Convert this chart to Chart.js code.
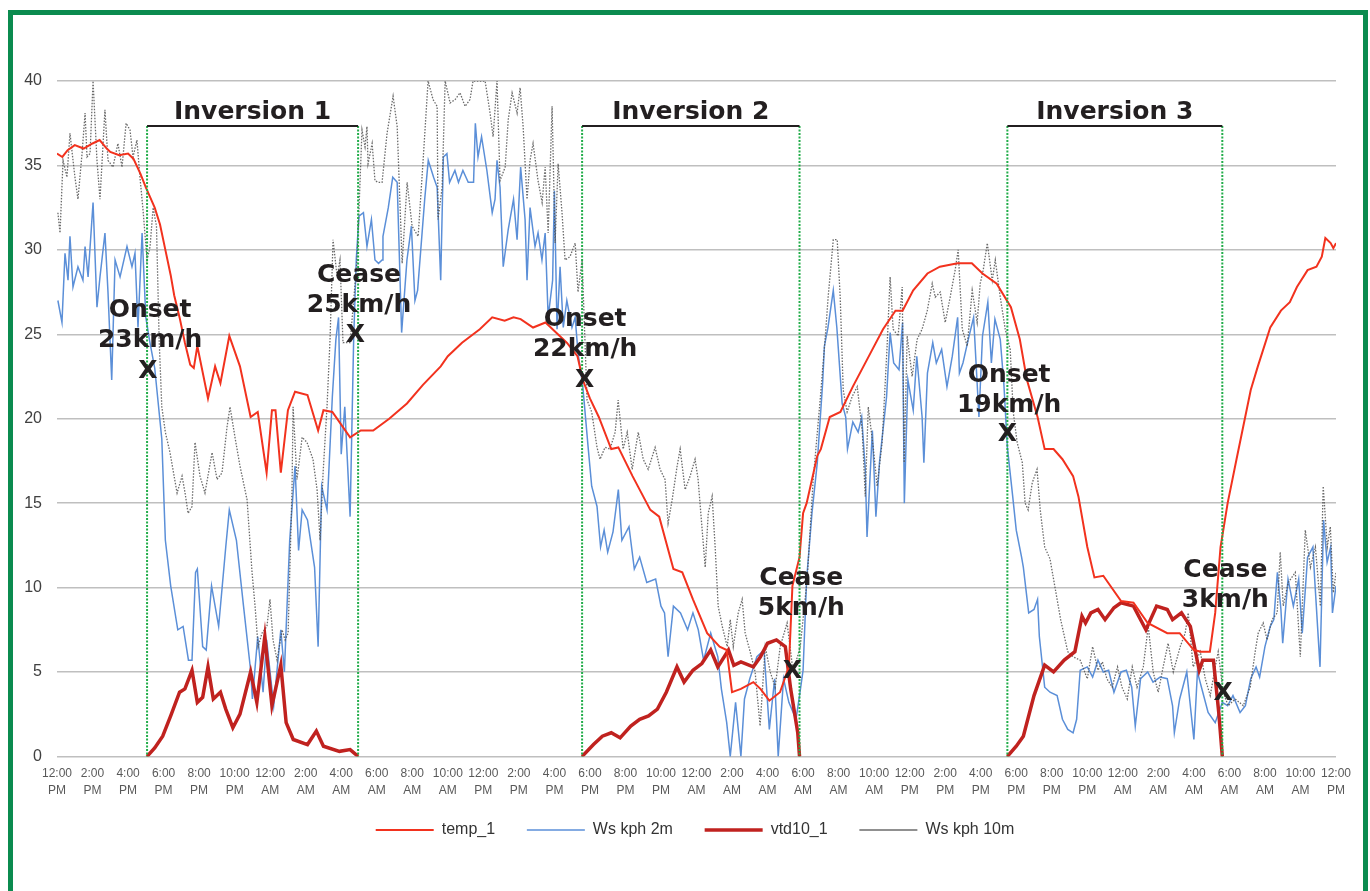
<!DOCTYPE html>
<html lang="en">
<head>
<meta charset="UTF-8">
<title>Inversions - wind speed and temperature</title>
<script src="https://cdn.jsdelivr.net/npm/chart.js"></script>
<style>
    body { margin: 0; background: #ffffff; }
    .frame {
        position: absolute; left: 8px; top: 10px;
        width: 1350px; height: 900px;
        border: 5px solid #0b8b4f;
    }
    #chart { position: absolute; left: 0; top: 0; }
</style>
</head>
<body>
<div class="frame"></div>
<canvas id="chart" width="1370" height="891"></canvas>
<script>
// hours since 12:00 PM on day 1, value
const temp1 = [
    [0,35.7],[0.3,35.5],[0.6,35.9],[1.0,36.2],[1.5,36.0],[2.0,36.3],[2.4,36.5],[2.8,36.0],[3.0,35.8],[3.5,35.6],
    [4.0,35.7],[4.3,35.4],[4.7,34.5],[5.0,33.7],[5.5,32.5],[5.8,31.5],[6.1,30.0],[6.4,28.5],[6.6,27.3],[6.9,26.0],
    [7.2,24.5],[7.5,23.2],[7.7,23.0],[7.9,24.3],[8.5,21.2],[8.9,23.1],[9.2,22.1],[9.7,24.9],[10.3,23.1],[10.9,20.1],
    [11.3,20.4],[11.8,16.8],[12.1,20.5],[12.3,20.5],[12.6,16.8],[13.0,20.5],[13.4,21.6],[14.1,21.4],[14.7,19.3],[15.0,20.5],
    [15.5,20.4],[16.5,18.9],[17.1,19.3],[17.8,19.3],[18.7,20.0],[19.7,20.9],[20.6,22.0],[21.6,23.1],[22.0,23.7],[22.8,24.5],
    [23.8,25.3],[24.5,26.0],[25.2,25.8],[25.7,26.0],[26.1,25.9],[26.8,25.4],[27.5,25.7],[27.9,25.3],[28.7,24.5],[29.3,23.7],
    [29.6,22.3],[30.0,21.2],[30.5,20.1],[31.2,18.2],[31.6,18.3],[32.4,16.6],[33.4,14.6],[33.9,14.2],[34.7,11.1],[35.2,10.9],
    [35.8,9.3],[36.6,7.3],[37.3,6.5],[37.7,6.3],[38.0,3.8],[38.5,4.0],[39.2,4.4],[39.6,4.0],[40.1,3.3],[40.7,3.8],
    [41.2,5.3],[41.4,10.1],[41.8,11.8],[42.0,14.4],[42.2,15.0],[42.8,17.8],[43.0,18.2],[43.5,20.1],[44.1,20.4],[44.8,21.9],
    [45.8,23.9],[46.5,25.3],[47.2,26.4],[47.6,26.4],[48.2,27.6],[49.0,28.6],[49.7,29.0],[50.7,29.2],[51.5,29.2],[52.1,28.6],
    [52.9,28.0],[53.7,26.6],[54.2,24.7],[54.6,22.3],[55.2,20.1],[55.6,18.2],[56.1,18.2],[56.6,17.6],[57.2,16.6],[57.5,15.4],
    [58.0,12.4],[58.4,10.6],[58.9,10.7],[59.9,9.2],[60.6,9.1],[61.4,7.9],[62.5,7.3],[63.2,7.3],[64.0,6.3],[64.4,6.2],
    [64.9,6.2],[65.2,8.5],[65.5,12.4],[65.9,15.0],[66.4,17.6],[67.2,21.7],[67.6,23.1],[68.3,25.4],[68.9,26.4],[69.4,26.9],
    [69.8,27.8],[70.4,28.8],[70.9,29.0],[71.2,29.6],[71.4,30.7],[71.7,30.4],[71.85,30.1],[72.0,30.4]
];

const wsKph2m = [
    [0.05,27.0],[0.28,25.7],[0.45,29.8],[0.62,28.2],[0.73,30.8],[0.9,27.8],[1.18,29.0],[1.46,28.2],[1.58,30.2],[1.75,28.4],
    [2.03,32.8],[2.25,26.6],[2.42,28.4],[2.7,31.0],[2.87,27.5],[3.08,22.3],[3.27,29.4],[3.55,28.4],[3.94,30.2],[4.22,29.0],
    [4.39,29.8],[4.56,25.4],[4.79,31.0],[5.0,26.0],[5.2,24.7],[5.5,23.0],[5.9,18.8],[6.1,12.8],[6.4,10.1],[6.8,7.5],
    [7.1,7.7],[7.4,5.7],[7.6,5.7],[7.8,10.9],[7.9,11.1],[8.2,6.5],[8.4,6.3],[8.7,10.1],[9.1,7.7],[9.5,12.4],
    [9.7,14.6],[10.1,12.8],[10.5,8.9],[10.9,5.1],[11.0,3.4],[11.3,7.1],[11.6,3.8],[11.8,6.9],[12.2,3.0],[12.6,7.5],
    [12.8,5.0],[13.1,12.8],[13.4,17.2],[13.6,12.2],[13.8,14.6],[14.1,14.0],[14.5,11.2],[14.7,6.5],[14.9,16.0],[15.2,14.6],
    [15.5,21.3],[15.7,24.7],[15.85,26.0],[16.0,17.9],[16.2,20.7],[16.5,14.2],[16.7,24.7],[16.85,29.5],[17.0,32.0],[17.25,32.2],
    [17.45,30.2],[17.7,31.8],[17.9,29.4],[18.1,29.2],[18.3,29.4],[18.35,30.8],[18.65,32.5],[18.9,34.3],[19.15,34.0],[19.4,25.1],
    [19.7,29.4],[19.95,31.4],[20.15,27.0],[20.3,27.6],[20.7,33.0],[20.9,35.3],[21.2,34.3],[21.4,33.7],[21.6,28.2],[21.75,35.5],
    [21.95,35.7],[22.1,34.0],[22.4,34.7],[22.6,34.0],[22.85,34.7],[23.15,34.0],[23.45,34.0],[23.55,37.5],[23.7,35.5],[23.9,36.7],
    [24.2,34.7],[24.5,32.2],[24.66,33.0],[24.77,35.3],[24.94,33.7],[25.12,29.0],[25.4,31.2],[25.7,33.0],[25.9,30.6],[26.1,34.9],
    [26.35,31.8],[26.46,28.2],[26.63,32.5],[26.91,30.2],[27.08,31.0],[27.3,29.4],[27.48,31.0],[27.65,26.0],[27.9,28.2],[28.0,33.5],
    [28.15,25.3],[28.32,29.0],[28.5,25.4],[28.7,27.0],[28.99,25.4],[29.17,26.0],[29.33,23.9],[29.6,21.9],[29.9,18.3],[30.1,16.0],
    [30.4,14.8],[30.6,12.4],[30.8,13.4],[31.0,12.1],[31.3,13.3],[31.6,15.8],[31.8,12.8],[32.2,13.6],[32.5,11.1],[32.8,11.8],
    [33.2,10.3],[33.7,10.5],[34.0,8.9],[34.2,8.5],[34.4,5.9],[34.7,8.9],[35.1,8.5],[35.5,7.5],[35.8,8.5],[36.1,7.5],
    [36.4,5.7],[36.8,7.3],[37.2,5.9],[37.4,4.0],[37.7,2.0],[37.9,0],[38.2,3.2],[38.5,0],[38.7,3.4],[39.0,4.6],
    [39.4,5.9],[39.8,6.3],[40.1,1.6],[40.4,4.6],[40.6,0],[40.9,4.6],[41.2,3.2],[41.6,2.2],[41.8,3.6],[42.0,5.1],
    [42.2,10.5],[42.5,14.4],[42.8,17.4],[43.1,22.1],[43.2,24.3],[43.4,25.4],[43.7,27.6],[43.9,25.4],[44.2,20.9],[44.4,20.1],
    [44.5,18.2],[44.8,19.8],[45.1,19.2],[45.3,20.1],[45.5,17.0],[45.6,13.0],[45.9,19.3],[46.1,14.2],[46.3,17.4],[46.7,21.3],
    [46.9,25.1],[47.1,23.3],[47.4,22.9],[47.6,25.7],[47.7,15.0],[47.9,22.3],[48.2,20.5],[48.4,23.7],[48.7,20.1],[48.8,17.4],
    [49.0,22.7],[49.3,24.5],[49.5,23.3],[49.8,24.1],[50.1,21.9],[50.4,23.7],[50.7,26.0],[50.8,22.7],[51.0,23.3],[51.3,24.7],
    [51.6,26.0],[51.9,20.1],[52.1,24.9],[52.4,26.9],[52.6,23.3],[52.8,25.9],[53.1,24.7],[53.3,22.1],[53.5,18.3],[53.8,15.4],
    [54.0,13.4],[54.3,11.8],[54.4,11.2],[54.7,8.5],[55.0,8.7],[55.2,9.3],[55.3,7.1],[55.6,4.1],[55.9,3.8],[56.3,3.6],
    [56.6,2.2],[56.9,1.6],[57.2,1.4],[57.4,2.2],[57.6,5.1],[58.0,5.3],[58.3,4.7],[58.6,5.7],[58.9,5.0],[59.2,5.1],
    [59.5,3.8],[59.9,5.0],[60.2,5.1],[60.5,4.1],[60.7,1.8],[61.0,4.6],[61.4,5.0],[61.7,4.4],[62.1,4.7],[62.5,4.6],
    [62.8,3.0],[62.9,1.4],[63.2,3.4],[63.6,5.0],[64.0,1.0],[64.2,5.0],[64.5,3.8],[64.8,2.6],[65.2,2.0],[65.6,3.2],
    [65.9,3.0],[66.2,3.6],[66.6,2.6],[66.9,3.0],[67.2,4.6],[67.5,5.3],[67.7,4.7],[68.0,6.5],[68.3,7.7],[68.5,8.1],
    [68.7,10.9],[68.9,8.7],[69.0,6.7],[69.3,10.5],[69.6,8.9],[69.9,10.5],[70.1,7.3],[70.4,11.8],[70.7,12.4],[70.8,10.5],
    [71.1,5.3],[71.3,14.0],[71.5,11.5],[71.7,12.4],[71.8,8.5],[72.0,10.1]
];

// only recorded during the three inversions, null breaks the line
const vtd10_1 = [
    [5.07,0],[5.5,0.5],[5.95,1.2],[6.4,2.4],[6.9,3.8],[7.2,4.0],[7.6,5.1],[7.9,3.2],[8.2,3.5],[8.5,5.3],
    [8.8,3.4],[9.2,3.8],[9.5,2.8],[9.9,1.7],[10.3,2.5],[10.9,5.0],[11.25,3.2],[11.7,7.1],[12.1,3.0],[12.6,5.4],
    [12.9,2.0],[13.3,1.0],[14.1,0.7],[14.6,1.5],[15.0,0.6],[15.9,0.3],[16.5,0.4],[16.95,0],[17.5,null],
    [29.56,0],[30.2,0.7],[30.7,1.2],[31.2,1.4],[31.7,1.1],[32.3,1.8],[32.8,2.2],[33.3,2.4],[33.8,2.8],[34.3,3.8],
    [34.9,5.3],[35.3,4.4],[35.8,5.1],[36.3,5.5],[36.8,6.3],[37.2,5.3],[37.8,6.3],[38.1,5.4],[38.5,5.6],[39.2,5.3],
    [39.6,5.9],[40.0,6.7],[40.5,6.9],[41.0,6.5],[41.3,4.0],[41.7,1.4],[41.8,0],[42.5,null],
    [53.5,0],[54.0,0.6],[54.4,1.2],[55.0,3.6],[55.6,5.4],[56.1,5.0],[56.7,5.7],[57.3,6.2],[57.7,8.3],[57.9,7.9],
    [58.2,8.5],[58.6,8.7],[59.0,8.1],[59.5,8.8],[59.9,9.1],[60.6,8.9],[61.3,7.5],[61.9,8.9],[62.5,8.7],[62.8,8.1],
    [63.3,8.5],[63.8,7.7],[64.3,5.1],[64.5,5.7],[65.1,5.7],[65.4,2.6],[65.6,0]
];

const wsKph10m = [
    [0.05,32.2],[0.17,31.0],[0.34,35.3],[0.56,34.3],[0.73,36.9],[1.01,34.3],[1.18,33.0],[1.41,35.7],[1.58,38.1],[1.69,35.5],
    [1.86,35.7],[2.03,40.0],[2.25,35.3],[2.42,33.0],[2.7,38.3],[2.87,35.3],[3.15,34.9],[3.43,36.3],[3.66,34.9],[3.89,37.5],
    [4.11,37.1],[4.28,35.5],[4.5,36.5],[4.67,34.3],[4.84,32.4],[5.07,29.4],[5.24,30.2],[5.41,32.5],[5.6,31.4],[5.75,24.7],
    [5.9,20.7],[6.1,19.2],[6.36,18.0],[6.76,15.6],[7.04,16.6],[7.21,15.6],[7.38,14.4],[7.6,14.8],[7.77,18.6],[8.05,16.6],
    [8.33,15.6],[8.73,18.0],[9.01,16.4],[9.29,16.8],[9.57,19.5],[9.74,20.7],[10.02,18.9],[10.3,17.2],[10.7,15.2],[10.98,10.9],
    [11.15,8.9],[11.32,6.5],[11.54,7.3],[11.82,7.7],[11.99,9.3],[12.16,6.9],[12.39,5.7],[12.67,7.5],[12.84,6.9],[13.01,7.3],
    [13.23,15.8],[13.29,20.7],[13.51,16.4],[13.8,18.9],[14.07,18.6],[14.41,17.6],[14.64,15.8],[14.81,12.8],[14.98,16.8],[15.2,20.7],
    [15.37,24.7],[15.54,30.6],[15.77,28.4],[15.93,29.4],[16.1,24.5],[16.5,24.5],[16.89,29.4],[17.17,37.1],[17.34,36.1],[17.45,37.3],
    [17.51,35.1],[17.74,36.3],[17.9,34.1],[18.07,34.0],[18.3,34.0],[18.58,36.9],[18.92,39.1],[19.15,37.3],[19.43,29.2],[19.71,34.0],
    [19.99,31.4],[20.33,30.8],[20.61,35.3],[20.89,40.0],[21.17,38.9],[21.4,38.5],[21.45,31.8],[21.68,33.7],[21.85,40.0],[22.13,38.7],
    [22.41,38.9],[22.69,39.3],[22.97,38.5],[23.25,38.9],[23.42,40.0],[24.1,40.0],[24.38,38.1],[24.55,36.7],[24.77,40.0],[24.94,34.1],
    [25.23,34.9],[25.4,37.7],[25.62,39.3],[25.9,38.1],[26.07,39.6],[26.24,37.3],[26.46,33.0],[26.63,35.3],[26.8,36.3],[27.08,34.1],
    [27.31,32.8],[27.48,34.9],[27.65,31.0],[27.87,38.5],[28.04,30.4],[28.21,35.1],[28.43,32.2],[28.6,29.4],[28.88,29.6],[29.17,30.4],
    [29.33,27.5],[29.56,29.4],[29.84,21.1],[30.1,20.4],[30.4,18.3],[30.57,17.6],[30.85,18.3],[31.13,18.2],[31.42,19.2],[31.59,21.1],
    [31.87,18.2],[32.1,19.2],[32.38,17.0],[32.72,19.2],[33.0,17.6],[33.28,17.0],[33.67,18.3],[33.95,17.0],[34.23,16.4],[34.4,13.8],
    [34.63,15.2],[34.91,17.2],[35.08,18.2],[35.36,15.8],[35.64,16.6],[35.92,17.6],[36.09,16.4],[36.32,13.4],[36.49,11.2],[36.66,14.4],
    [36.88,15.4],[37.05,12.4],[37.22,8.9],[37.45,7.7],[37.73,6.5],[37.9,8.1],[38.07,6.5],[38.35,8.5],[38.57,9.3],[38.74,7.3],
    [39.02,6.2],[39.3,5.0],[39.58,1.8],[39.87,6.5],[40.15,5.0],[40.43,4.1],[40.71,6.5],[41.1,7.9],[41.44,5.0],[41.84,6.5],
    [42.23,10.5],[42.57,16.4],[42.96,21.1],[43.13,23.3],[43.24,24.7],[43.41,27.2],[43.7,30.6],[43.92,30.6],[44.09,27.2],[44.26,21.7],
    [44.48,20.4],[44.76,21.3],[45.05,21.9],[45.33,19.3],[45.5,15.4],[45.67,20.7],[45.95,18.3],[46.17,16.0],[46.45,18.6],[46.73,24.3],
    [46.9,28.4],[47.07,25.3],[47.35,24.9],[47.58,27.8],[47.69,17.4],[47.86,24.9],[48.14,22.5],[48.42,24.7],[48.7,25.3],[48.99,26.4],
    [49.27,28.0],[49.44,27.2],[49.72,27.5],[50.0,25.7],[50.28,27.2],[50.56,28.8],[50.73,30.0],[50.96,25.3],[51.24,24.3],[51.52,27.6],
    [51.8,25.7],[51.97,28.0],[52.14,28.8],[52.37,30.4],[52.65,28.2],[52.82,29.4],[53.1,27.2],[53.38,25.3],[53.66,24.1],[53.83,20.4],
    [54.05,18.6],[54.34,17.4],[54.5,15.0],[54.67,14.6],[54.9,16.2],[55.17,17.0],[55.35,14.6],[55.6,12.4],[55.9,11.7],[56.2,9.9],
    [56.5,8.1],[56.9,6.2],[57.2,5.9],[57.6,5.7],[58.0,4.6],[58.3,6.5],[58.6,5.1],[58.85,5.6],[59.1,4.6],[59.4,4.1],
    [59.7,5.3],[59.95,4.1],[60.25,3.4],[60.53,5.3],[60.8,4.1],[61.15,5.3],[61.43,7.7],[61.71,5.0],[61.99,3.8],[62.27,5.3],
    [62.55,6.7],[62.84,5.0],[63.23,6.5],[63.51,7.3],[63.68,8.5],[63.96,5.3],[64.36,6.2],[64.64,4.6],[64.92,3.6],[65.2,5.3],
    [65.37,6.2],[65.65,3.8],[65.93,3.0],[66.33,3.4],[66.78,3.0],[67.17,4.1],[67.45,6.2],[67.62,7.3],[67.9,7.9],[68.12,6.9],
    [68.4,8.1],[68.69,8.5],[68.86,12.1],[69.03,8.9],[69.31,10.3],[69.71,10.9],[69.99,5.9],[70.27,13.4],[70.56,11.2],[70.84,12.4],
    [71.12,8.9],[71.28,16.0],[71.51,12.4],[71.68,13.6],[71.85,9.7],[72.0,10.9]
];

const tickLabels = [
    '12:00 PM','2:00 PM','4:00 PM','6:00 PM','8:00 PM','10:00 PM','12:00 AM','2:00 AM','4:00 AM','6:00 AM','8:00 AM','10:00 AM',
    '12:00 PM','2:00 PM','4:00 PM','6:00 PM','8:00 PM','10:00 PM','12:00 AM','2:00 AM','4:00 AM','6:00 AM','8:00 AM','10:00 AM',
    '12:00 PM','2:00 PM','4:00 PM','6:00 PM','8:00 PM','10:00 PM','12:00 AM','2:00 AM','4:00 AM','6:00 AM','8:00 AM','10:00 AM',
    '12:00 PM'
];

// inversion periods (hours)
const invStart = [5.07, 29.56, 53.5];
const invEnd = [16.95, 41.8, 65.6];
const invLabels = ['Inversion 1', 'Inversion 2', 'Inversion 3'];

// onset / cease marks: where the X sits (hour, wind speed)
const markText = [['Onset','23km/h'], ['Cease','25km/h'], ['Onset','22km/h'], ['Cease','5km/h'], ['Onset','19km/h'], ['Cease','3km/h']];
const markAt = [[5.12,22.96], [16.8,25.1], [29.7,22.4], [41.4,5.2], [53.5,19.2], [65.65,3.85]];
const markLabelAt = [[5.24,24.76], [17.0,26.86], [29.73,24.26], [41.9,8.88], [53.6,20.95], [65.77,9.41]];

const toXY = rows => rows.map(r => ({ x: r[0], y: r[1] }));

const inversionPlugin = {
    id: 'inversions',
    afterDatasetsDraw(chart) {
        const { ctx, scales: { x, y } } = chart;
        const topY = y.getPixelForValue(37.34);
        ctx.save();
        for (let i = 0; i < invStart.length; i++) {
            const x0 = x.getPixelForValue(invStart[i]);
            const x1 = x.getPixelForValue(invEnd[i]);
            ctx.strokeStyle = '#22ad4a';
            ctx.lineWidth = 2;
            ctx.setLineDash([2, 1.5]);
            ctx.beginPath();
            ctx.moveTo(x0, topY); ctx.lineTo(x0, y.bottom);
            ctx.moveTo(x1, topY); ctx.lineTo(x1, y.bottom);
            ctx.stroke();
            ctx.setLineDash([]);
            ctx.strokeStyle = '#231f20';
            ctx.beginPath();
            ctx.moveTo(x0, topY); ctx.lineTo(x1, topY);
            ctx.stroke();
            ctx.fillStyle = '#231f20';
            ctx.font = 'bold 25px "DejaVu Sans"';
            ctx.textAlign = 'center';
            ctx.textBaseline = 'alphabetic';
            ctx.fillText(invLabels[i], (x0 + x1) / 2, topY - 7);
        }
        // onset / cease labels
        ctx.fillStyle = '#231f20';
        ctx.font = 'bold 25px "DejaVu Sans"';
        ctx.textAlign = 'center';
        ctx.textBaseline = 'alphabetic';
        markText.forEach((t, i) => {
            const lx = x.getPixelForValue(markLabelAt[i][0]);
            const ly = y.getPixelForValue(markLabelAt[i][1]);
            ctx.fillText(t[0], lx, ly - 30 + 9);
            ctx.fillText(t[1], lx, ly + 9);
            const mx = x.getPixelForValue(markAt[i][0]);
            const my = y.getPixelForValue(markAt[i][1]);
            ctx.fillText('X', mx, my + 9);
        });
        ctx.restore();
    }
};

// legend items: extra trailing space between entries (except the last)
const legendLabels = chart => Chart.defaults.plugins.legend.labels.generateLabels(chart)
    .map(item => {
        if (item.datasetIndex !== 3) item.text = item.text + '\u00a0\u00a0\u00a0\u00a0';
        return item;
    });

new Chart(document.getElementById('chart'), {
    type: 'line',
    data: {
        datasets: [
            { label: 'temp_1', data: toXY(temp1), borderColor: '#f2321e', borderWidth: 2, order: 0 },
            { label: 'Ws kph 2m', data: toXY(wsKph2m), borderColor: '#5b8fd8', borderWidth: 1.5, order: 3 },
            { label: 'vtd10_1', data: toXY(vtd10_1), borderColor: '#c0221f', borderWidth: 3.5, order: 1 },
            { label: 'Ws kph 10m', data: toXY(wsKph10m), borderColor: 'rgba(80,80,80,0.85)', borderWidth: 1.3, borderDash: [1.5, 1.5], order: 2 }
        ]
    },
    options: {
        responsive: false,
        animation: false,
        elements: { point: { radius: 0 }, line: { tension: 0, fill: false } },
        layout: { padding: { left: 20, right: 0, top: 81, bottom: 43 } },
        scales: {
            x: {
                type: 'linear', min: 0, max: 72,
                grid: { display: false, drawTicks: false },
                border: { display: false },
                ticks: {
                    stepSize: 2, autoSkip: false, maxRotation: 0, padding: 9,
                    color: '#595959',
                    font: { family: 'Liberation Sans', size: 12, lineHeight: 1.4 },
                    callback: v => tickLabels[Math.round(v / 2)].split(' ')
                }
            },
            y: {
                min: 0, max: 40,
                grid: { color: '#bfbfbf', lineWidth: 1.5, drawTicks: false },
                border: { display: false },
                afterFit: s => { s.width = 37; },
                ticks: {
                    stepSize: 5, padding: 15, color: '#404040',
                    font: { family: 'Liberation Sans', size: 16 }
                }
            },
            // empty right-hand axis, keeps the plot off the right edge
            yRight: {
                position: 'right', min: 0, max: 1,
                grid: { display: false },
                border: { display: false },
                ticks: { display: false },
                afterFit: s => { s.width = 34; }
            }
        },
        plugins: {
            tooltip: { enabled: false },
            legend: {
                position: 'bottom',
                labels: {
                    usePointStyle: true, pointStyle: 'line', pointStyleWidth: 58,
                    padding: 14, color: '#333333',
                    font: { family: 'Liberation Sans', size: 16 },
                    generateLabels: legendLabels,
                    sort: (a, b) => a.datasetIndex - b.datasetIndex
                }
            }
        }
    },
    plugins: [inversionPlugin]
});
</script>
</body>
</html>
